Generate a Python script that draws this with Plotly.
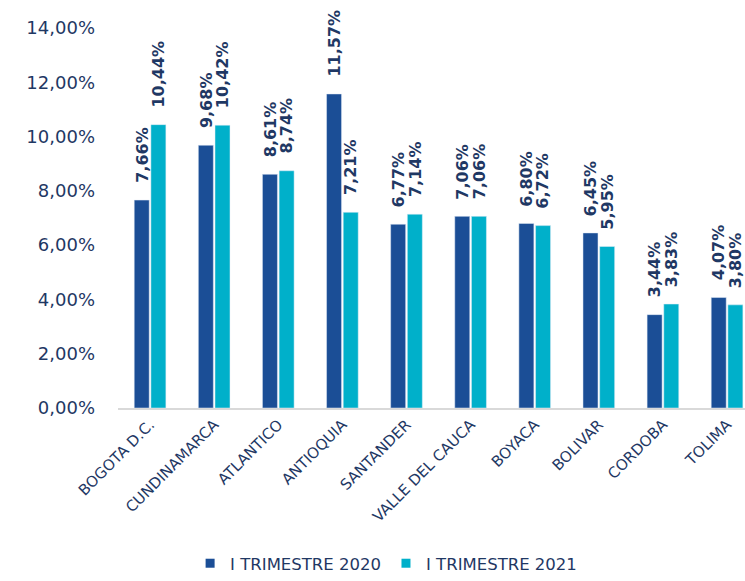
import plotly.graph_objects as go

categories = ["BOGOTA D.C.", "CUNDINAMARCA", "ATLANTICO", "ANTIOQUIA", "SANTANDER",
              "VALLE DEL CAUCA", "BOYACA", "BOLIVAR", "CORDOBA", "TOLIMA"]
series_2020 = [7.66, 9.68, 8.61, 11.57, 6.77, 7.06, 6.80, 6.45, 3.44, 4.07]
series_2021 = [10.44, 10.42, 8.74, 7.21, 7.14, 7.06, 6.72, 5.95, 3.83, 3.80]
series_names = ["I TRIMESTRE 2020", "I TRIMESTRE 2021"]
tick_vals = [0, 2, 4, 6, 8, 10, 12, 14]
tick_text = ["0,00%", "2,00%", "4,00%", "6,00%", "8,00%", "10,00%", "12,00%", "14,00%"]

navy = "#1F3864"
colors = ["#1B4E96", "#00B0CA"]
font_family = "DejaVu Sans"
BARGAP = 0.48
GROUPGAP = 0.1

def fmt(v):
    return f"{v:.2f}".replace(".", ",") + "%"

fig = go.Figure()
for name, vals, col in zip(series_names, [series_2020, series_2021], colors):
    fig.add_trace(go.Bar(name=name, x=categories, y=vals,
                         marker=dict(color=col), showlegend=False))
    fig.add_trace(go.Scatter(name=name, x=[None], y=[None], mode="markers",
                             marker=dict(symbol="square", size=9, color=col),
                             showlegend=True))

# data labels above bars
slot = (1 - BARGAP) / 2
offsets = [-slot / 2, slot / 2]
for vals, off in zip([series_2020, series_2021], offsets):
    for i, v in enumerate(vals):
        fig.add_annotation(x=i + off, y=v, xref="x", yref="y", text=fmt(v),
                           textangle=-90, showarrow=False, yanchor="bottom",
                           xanchor="center", yshift=15,
                           font=dict(family=font_family, size=16, color=navy, weight="bold"))

fig.update_layout(
    width=745, height=581,
    margin=dict(l=118, r=0, t=28, b=173),
    plot_bgcolor="white", paper_bgcolor="white",
    barmode="group", bargap=BARGAP, bargroupgap=GROUPGAP,
    font=dict(family=font_family, color=navy),
    xaxis=dict(
        range=[-0.5, 9.28], tickangle=-45, tickfont=dict(size=15, color=navy),
        showline=True, linecolor="#D9D9D9", linewidth=2, ticks="",
        showgrid=False, automargin=False,
    ),
    yaxis=dict(
        range=[0, 14], tickvals=tick_vals, ticktext=tick_text,
        tickfont=dict(size=18, color=navy), showgrid=False, zeroline=False,
        ticklabelstandoff=22, automargin=False,
    ),
    legend=dict(
        orientation="h", x=0.115, xanchor="left",
        yref="container", y=0, yanchor="bottom",
        font=dict(size=16.5, color=navy), traceorder="normal",
    ),
)

fig.write_html("out.html", config={"displayModeBar": False},
               post_script="document.body.style.margin='0';document.body.style.padding='0';")
